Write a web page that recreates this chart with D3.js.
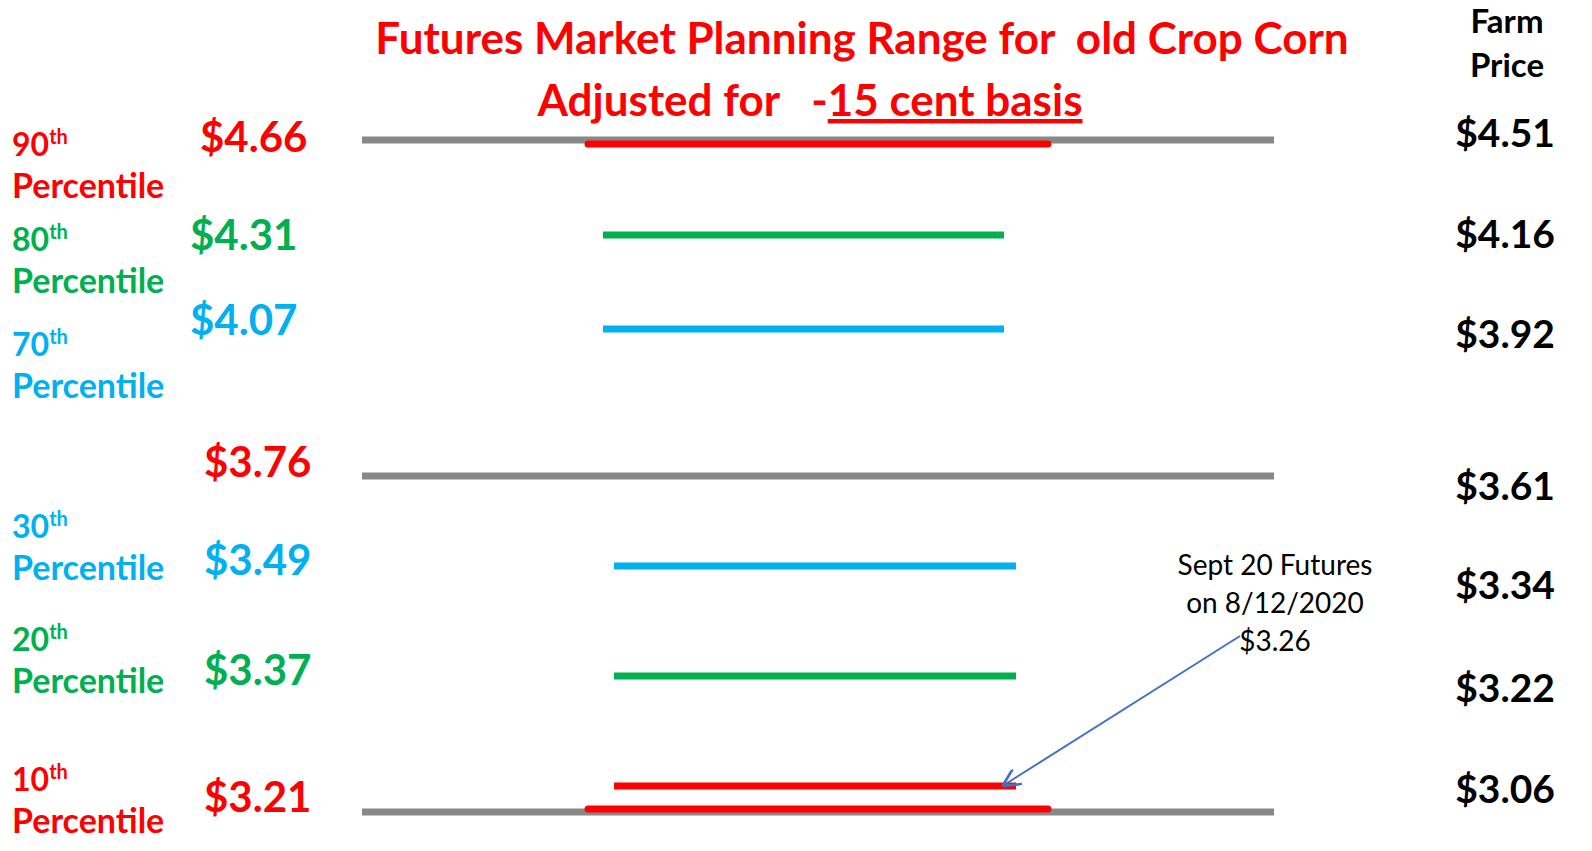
<!DOCTYPE html>
<head>
<meta charset="utf-8">
<script src="https://d3js.org/d3.v7.min.js"></script>
<style>
body{margin:0;background:#fff}
text{font-family:Lato,"Open Sans",sans-serif;font-weight:bold}
</style>
</head>
<body>
<svg id="chart" width="1592" height="851"></svg>
<script>
// planning levels, top to bottom
var pctLabels = ["90", "80", "70", "", "30", "20", "10"];
var futures = [4.66, 4.31, 4.07, 3.76, 3.49, 3.37, 3.21];
var farm = [4.51, 4.16, 3.92, 3.61, 3.34, 3.22, 3.06];
var kinds = ["edge", "mid", "inner", "edge", "inner", "mid", "edge"];
var basis = -0.15;
var marketPrice = 3.26;

var colors = {edge: "#FF0000", mid: "#00B050", inner: "#00B0F0"};
var svg = d3.select("#chart");

// piecewise scale, slide spacing is not linear in price
var y = d3.scaleLinear()
	.domain(futures)
	.range([140, 235, 329, 476, 566, 676, 812]);
var x = d3.scaleLinear().domain([0, 1]).range([362, 1274]);

// gray range lines: top, mean, bottom
svg.selectAll(".gray").data([futures[0], futures[3], futures[6]]).enter()
	.append("line")
	.attr("x1", x(0)).attr("x2", x(1))
	.attr("y1", d => y(d)).attr("y2", d => y(d))
	.attr("stroke", "#888").attr("stroke-width", 7);

// red rounded bars hugging top/bottom lines
[[futures[0], 4], [futures[6], -3]].forEach(function(p) {
	svg.append("line")
		.attr("x1", 588).attr("x2", 1048)
		.attr("y1", y(p[0]) + p[1]).attr("y2", y(p[0]) + p[1])
		.attr("stroke", "#FF0000").attr("stroke-width", 7).attr("stroke-linecap", "round");
});

// percentile lines
var inner = futures.map((d, i) => ({v: d, k: kinds[i], i: i})).filter(d => d.i > 0 && d.i != 3);
svg.selectAll(".pl").data(inner).enter().append("line")
	.attr("x1", d => d.i < 3 ? 603 : 614)
	.attr("x2", d => d.i < 3 ? 1004 : 1016)
	.attr("y1", d => d.i == 6 ? y(d.v) - 26 : y(d.v))
	.attr("y2", d => d.i == 6 ? y(d.v) - 26 : y(d.v))
	.attr("stroke", d => colors[d.k]).attr("stroke-width", 7);

// title
svg.append("text").attr("x", 862).attr("y", 54).attr("text-anchor", "middle")
	.attr("font-size", 44).attr("fill", "#FF0000").attr("xml:space", "preserve")
	.text("Futures Market Planning Range for  old Crop Corn");
var t2 = svg.append("text").attr("x", 810).attr("y", 116).attr("text-anchor", "middle")
	.attr("font-size", 44).attr("fill", "#FF0000").attr("xml:space", "preserve");
t2.append("tspan").text("Adjusted for   -");
t2.append("tspan").attr("text-decoration", "underline").text(Math.round(-basis * 100) + " cent basis");

// left labels
var pctY = [145, 240, 345, null, 527, 640, 780];
var priceY = [137, 235, 320, 462, 560, 670, 797];
var priceX = [200, 190, 190, 204, 204, 204, 204];
pctLabels.forEach(function(p, i) {
	var c = colors[kinds[i]];
	if (p) {
		var t = svg.append("text").attr("x", 12).attr("y", pctY[i] + 11).attr("font-size", 32).attr("fill", c);
		t.append("tspan").text(p);
		t.append("tspan").attr("font-size", 20).attr("dy", -12).text("th");
		svg.append("text").attr("x", 12).attr("y", pctY[i] + 53).attr("font-size", 34).attr("fill", c).text("Percentile");
	}
	svg.append("text").attr("x", priceX[i]).attr("y", priceY[i] + 15).attr("font-size", 42)
		.attr("fill", c).text("$" + futures[i].toFixed(2));
});

// farm price column
svg.append("text").attr("x", 1507).attr("y", 33).attr("text-anchor", "middle").attr("font-size", 33).text("Farm");
svg.append("text").attr("x", 1507).attr("y", 77).attr("text-anchor", "middle").attr("font-size", 33).text("Price");
var farmY = [133, 234, 334, 486, 585, 688, 789];
farm.forEach(function(f, i) {
	svg.append("text").attr("x", 1555).attr("y", farmY[i] + 14).attr("text-anchor", "end")
		.attr("font-size", 39).attr("fill", "#000").text("$" + f.toFixed(2));
});

// annotation
["Sept 20 Futures", "on 8/12/2020", "$" + marketPrice.toFixed(2)].forEach(function(s, i) {
	svg.append("text").attr("x", 1275).attr("y", 575 + i * 38).attr("text-anchor", "middle")
		.attr("font-size", 28).style("font-weight", "normal").text(s);
});
svg.append("defs").append("marker").attr("id", "ar").attr("viewBox", "0 0 10 10")
	.attr("refX", 9).attr("refY", 5).attr("markerWidth", 9).attr("markerHeight", 9).attr("orient", "auto")
	.append("path").attr("d", "M0,0 L10,5 L0,10").attr("fill", "none").attr("stroke", "#4472C4").attr("stroke-width", 1.5);
svg.append("line").attr("x1", 1240).attr("y1", 636).attr("x2", 1004).attr("y2", 785)
	.attr("stroke", "#4472C4").attr("stroke-width", 2).attr("marker-end", "url(#ar)");
</script>
</body>
